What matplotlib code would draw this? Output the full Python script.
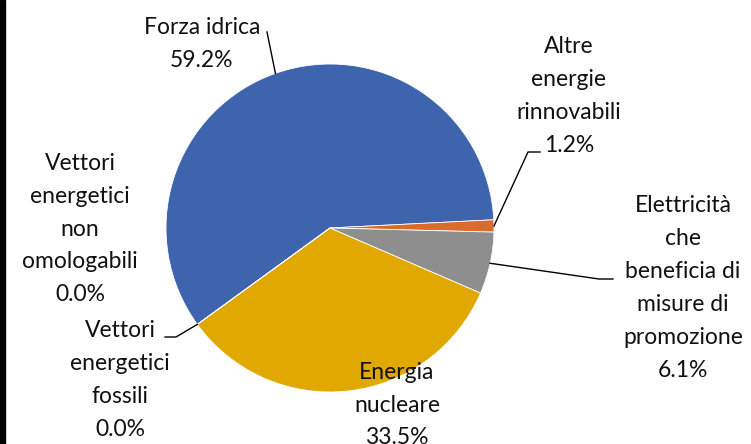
import matplotlib.pyplot as plt
from matplotlib.patches import Rectangle
import numpy as np

# dati
categorie = ['Forza idrica', 'Altre\nenergie\nrinnovabili',
             'Elettricità\nche\nbeneficia di\nmisure di\npromozione',
             'Energia\nnucleare', 'Vettori\nenergetici\nfossili',
             'Vettori\nenergetici\nnon\nomologabili']
quote = [59.2, 1.2, 6.1, 33.5, 0.0, 0.0]
colori = ['#3E64AD', '#D96B2B', '#8E8E8E', '#E0A800', '#A5A5A5', '#5B9BD5']

plt.rcParams['font.family'] = ['Lato', 'DejaVu Sans']

fig = plt.figure(figsize=(7.51, 4.44), dpi=100)
ax = fig.add_axes([0, 0, 1, 1])

cx, cy, r = 330, 444 - 228, 164
wedges, _ = ax.pie(quote, colors=colori, startangle=216, counterclock=False,
                   center=(cx, cy), radius=r, frame=True,
                   wedgeprops=dict(edgecolor='white', linewidth=0.6))
ax.set_xlim(0, 751)
ax.set_ylim(0, 444)
ax.set_aspect('equal')
ax.axis('off')

# posizione etichette (x, y in pixel dall'alto) e linee guida
pos_testo = [(202, 44), (569, 96), (683, 288), (397, 405), (120, 380), (80, 229)]
guide = {0: [(267, 32)],
         1: [(528, 152), (540, 152)],
         2: [(599, 279), (613, 279)],
         4: [(176, 337), (165, 337)]}

for i, w in enumerate(wedges):
    testo = categorie[i] + '\n' + f'{quote[i]:.1f}%'
    tx, ty = pos_testo[i]
    ax.text(tx, 444 - ty, testo, ha='center', va='center', fontsize=16.5,
            linespacing=1.7, color='#111111')
    if i in guide:
        a = np.deg2rad((w.theta1 + w.theta2) / 2)
        px = [cx + r * np.cos(a)] + [p[0] for p in guide[i]]
        py = [cy + r * np.sin(a)] + [444 - p[1] for p in guide[i]]
        ax.plot(px, py, color='black', linewidth=1)

# barra nera a sinistra
fig.patches.append(Rectangle((0, 0), 5 / 751, 1, transform=fig.transFigure,
                             color='black'))

fig.savefig('out.png', dpi=100)
